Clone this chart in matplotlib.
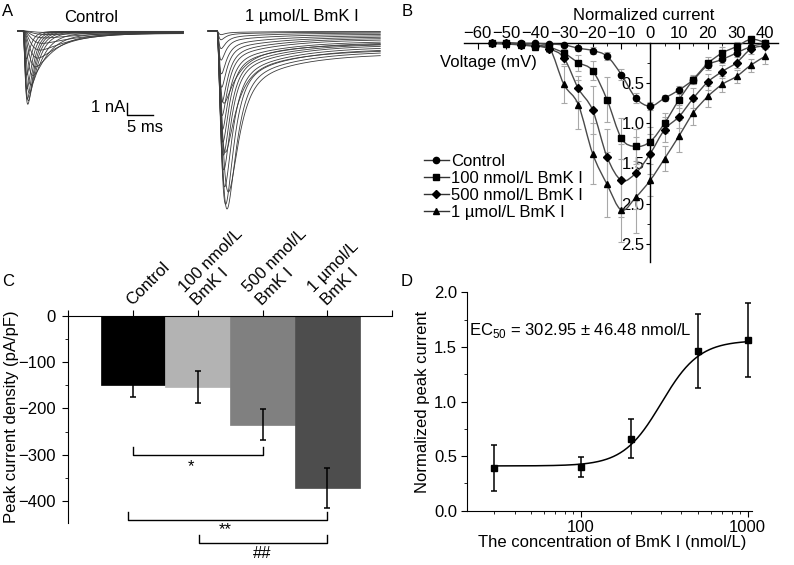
import numpy as np
import matplotlib
matplotlib.use("Agg")
import matplotlib.pyplot as plt
from matplotlib.path import Path
from matplotlib.patches import PathPatch
from matplotlib.lines import Line2D
from matplotlib.ticker import MultipleLocator, FixedLocator, LogLocator, NullFormatter, FormatStrFormatter

plt.rcParams["font.family"] = ["Liberation Sans", "DejaVu Sans"]
plt.rcParams["font.size"] = 12
plt.rcParams["mathtext.fontset"] = "custom"
plt.rcParams["mathtext.rm"] = "Liberation Sans"

# ---------------- data ----------------
# A: current traces (per-trace kinetic parameters, nA / ms)
ctrl_peak = [0.1, 0.25, 0.5, 0.9, 1.4, 2.0, 2.7, 3.4, 4.2, 4.9, 5.5, 5.8, 5.4, 4.6, 3.5, 2.2]
ctrl_tau_m = [1.5, 1.4, 1.3, 1.2, 1.1, 1.0, 0.9, 0.75, 0.6, 0.5, 0.42, 0.38, 0.35, 0.32, 0.3, 0.28]
ctrl_tau_h = [14, 12, 10, 8, 6.5, 5.0, 4.0, 3.0, 2.3, 1.8, 1.5, 1.3, 1.2, 1.1, 1.0, 0.9]
ctrl_late = [0.02, 0.04, 0.06, 0.1, 0.15, 0.2, 0.2, 0.2, 0.15, 0.1, 0.1, 0.08, 0.06, 0.05, 0.04, 0.03]

bmk_peak = [0.2, 0.5, 1.0, 1.7, 2.5, 3.3, 4.2, 5.0, 5.8, 6.6, 7.4, 8.4, 9.6, 11.0, 11.4, 9.8, 6.5, 3.5]
bmk_tau_m = [0.3, 0.3, 0.3, 0.3, 0.32, 0.34, 0.36, 0.38, 0.4, 0.45, 0.5, 0.55, 0.65, 0.8, 1.0, 1.1, 0.6, 0.4]
bmk_tau_h = [0.9, 0.9, 1.0, 1.0, 1.1, 1.1, 1.2, 1.2, 1.3, 1.3, 1.4, 1.4, 1.5, 1.5, 1.6, 1.8, 2.0, 2.5]
bmk_slow = [0.1, 0.2, 0.4, 0.6, 0.9, 1.2, 1.5, 1.8, 2.1, 2.4, 2.7, 3.0, 3.3, 3.6, 3.8, 4.0, 3.0, 1.8]
bmk_late = [0.03, 0.08, 0.15, 0.25, 0.35, 0.45, 0.55, 0.65, 0.8, 0.9, 1.0, 1.1, 1.25, 1.4, 1.6, 1.8, 1.5, 1.0]

# B: I-V relation (normalized current, positive downward)
voltage = [-55, -50, -45, -40, -35, -30, -25, -20, -15, -10, -5, 0, 5, 10, 15, 20, 25, 30, 35, 40]
iv_control = [0.0, 0.0, 0.01, 0.01, 0.02, 0.03, 0.07, 0.10, 0.17, 0.40, 0.69, 0.79, 0.69, 0.59, 0.46, 0.28, 0.21, 0.13, 0.05, 0.01]
iv_100 = [0.01, 0.01, 0.02, 0.04, 0.06, 0.13, 0.25, 0.35, 0.71, 1.19, 1.29, 1.23, 1.00, 0.71, 0.46, 0.26, 0.13, 0.05, -0.04, 0.0]
iv_500 = [0.01, 0.01, 0.03, 0.04, 0.08, 0.19, 0.57, 0.84, 1.42, 1.71, 1.62, 1.38, 1.08, 0.92, 0.69, 0.49, 0.36, 0.25, 0.08, 0.04]
iv_1000 = [0.01, 0.02, 0.03, 0.05, 0.07, 0.52, 0.77, 1.38, 1.76, 2.08, 1.92, 1.71, 1.44, 1.16, 0.87, 0.67, 0.52, 0.42, 0.28, 0.17]
iv_control_err = [0.01, 0.01, 0.01, 0.01, 0.01, 0.02, 0.03, 0.04, 0.05, 0.07, 0.06, 0.05, 0.04, 0.05, 0.05, 0.04, 0.04, 0.03, 0.02, 0.01]
iv_100_err = [0.01, 0.01, 0.01, 0.02, 0.03, 0.05, 0.10, 0.12, 0.28, 0.25, 0.22, 0.18, 0.12, 0.10, 0.06, 0.08, 0.08, 0.06, 0.04, 0.02]
iv_500_err = [0.01, 0.01, 0.02, 0.02, 0.04, 0.08, 0.15, 0.30, 0.35, 0.45, 0.45, 0.25, 0.15, 0.14, 0.12, 0.10, 0.08, 0.07, 0.06, 0.04]
iv_1000_err = [0.01, 0.01, 0.02, 0.03, 0.05, 0.23, 0.30, 0.38, 0.40, 0.40, 0.45, 0.20, 0.15, 0.20, 0.15, 0.13, 0.10, 0.08, 0.08, 0.10]
iv_labels = ["Control", "100 nmol/L BmK I", "500 nmol/L BmK I", "1 µmol/L BmK I"]
iv_markers = ["o", "s", "D", "^"]

# C: peak current density
c_labels = ["Control", "100 nmol/L\nBmK I", "500 nmol/L\nBmK I", "1 µmol/L\nBmK I"]
c_values = [-150, -154, -235, -372]
c_errors = [26, 35, 34, 43]
c_colors = ["#000000", "#b3b3b3", "#808080", "#4d4d4d"]
# brackets: (x_left, x_right, y, label, label_x, label_y)
c_brackets = [(0.0, 2.0, -300, "*", 0.9, -326), (-0.08, 3.0, -441, "**", 1.42, -462),
              (1.02, 3.0, -491, "##", 2.0, -514)]

# D: dose-response
d_conc = [30, 100, 200, 500, 1000]
d_resp = [0.39, 0.40, 0.66, 1.46, 1.56]
d_err = [0.21, 0.09, 0.18, 0.34, 0.34]
fit_bottom, fit_top, fit_ec50, fit_hill = 0.41, 1.56, 302.95, 3.8

# ---------------- figure ----------------
W, H = 794, 565
fig = plt.figure(figsize=(W / 100, H / 100), dpi=100)


def add_ax(x0, y0, x1, y1):
    return fig.add_axes([x0 / W, 1 - y1 / H, (x1 - x0) / W, (y1 - y0) / H])


def ftext(x, y, s, **kw):
    return fig.text(x / W, 1 - y / H, s, **kw)


def na_trace(t, peak, tau_m, tau_h, slow, late, tau_s=10.0):
    tt = np.clip(t, 0, None)
    act = (1 - np.exp(-tt / tau_m)) ** 3
    fast = act * np.exp(-tt / tau_h)
    fast = fast / fast.max() * peak
    return -(fast + act * (slow * np.exp(-tt / tau_s) + late))


def smooth_path(x, y):
    pts = np.column_stack([x, y]).astype(float)
    verts = [pts[0]]
    codes = [Path.MOVETO]
    n = len(pts)
    for i in range(n - 1):
        p0 = pts[max(i - 1, 0)]
        p1 = pts[i]
        p2 = pts[i + 1]
        p3 = pts[min(i + 2, n - 1)]
        verts += [p1 + (p2 - p0) / 6, p2 - (p3 - p1) / 6, p2]
        codes += [Path.CURVE4] * 3
    return Path(verts, codes)


# ---- A ----
px_ms, px_na = 5.2, 12.5
axA = add_ax(0, 20, 400, 230)
axA.set_xlim(-23 / px_ms, (400 - 23) / px_ms)
axA.set_ylim(-(230 - 31) / px_na, (31 - 20) / px_na)
axA.axis("off")

t_ctrl = np.linspace(-1.0, 30.8, 900)
for k in range(len(ctrl_peak)):
    axA.plot(t_ctrl, na_trace(t_ctrl, ctrl_peak[k], ctrl_tau_m[k], ctrl_tau_h[k], 0.0, ctrl_late[k]),
             color="#3c3c3c", lw=0.6)
bmk_onset = (217 - 23) / px_ms
t_bmk = np.linspace(-1.7, 31.4, 900)
for k in range(len(bmk_peak)):
    axA.plot(t_bmk + bmk_onset, na_trace(t_bmk, bmk_peak[k], bmk_tau_m[k], bmk_tau_h[k], bmk_slow[k], bmk_late[k]),
             color="#3c3c3c", lw=0.6)

axA.plot([20, 20, 25], [-5.72, -6.72, -6.72], color="k", lw=1)
axA.text(19.6, -6.1, "1 nA", ha="right", va="center")
axA.text(23.5, -7.75, "5 ms", ha="center", va="center")
ftext(91, 17, "Control", ha="center", va="center")
ftext(302, 17, "1 µmol/L BmK I", ha="center", va="center")

# ---- B ----
axB = add_ax(464, 42.5, 778.3, 261.7)
axB.set_xlim(-64.7, 44.5)
axB.set_ylim(2.72, 0)
axB.spines["bottom"].set_visible(False)
axB.spines["right"].set_visible(False)
axB.spines["left"].set_position(("data", 0))
axB.xaxis.tick_top()
axB.xaxis.set_major_locator(FixedLocator(range(-60, 41, 10)))
axB.xaxis.set_minor_locator(FixedLocator(range(-65, 45, 5)))
axB.tick_params(axis="x", which="major", direction="in", length=4, pad=1, labelsize=12)
axB.tick_params(axis="x", which="minor", direction="in", length=2)
axB.yaxis.set_major_locator(FixedLocator([0.5, 1.0, 1.5, 2.0, 2.5]))
axB.yaxis.set_minor_locator(FixedLocator([0.25, 0.75, 1.25, 1.75, 2.25]))
axB.yaxis.set_major_formatter(FormatStrFormatter("%.1f"))
axB.tick_params(axis="y", which="major", direction="out", length=3, pad=1, labelsize=12)
axB.tick_params(axis="y", which="minor", direction="out", length=2)
for sp in axB.spines.values():
    sp.set_linewidth(1)

iv_series = [iv_control, iv_100, iv_500, iv_1000]
iv_errs = [iv_control_err, iv_100_err, iv_500_err, iv_1000_err]
handles = []
for vals, errs, mk, lab in zip(iv_series, iv_errs, iv_markers, iv_labels):
    axB.errorbar(voltage, vals, yerr=errs, fmt="none", ecolor="#a8a8a8", elinewidth=0.8,
                 capsize=2, capthick=0.8, clip_on=False, zorder=2)
    axB.add_patch(PathPatch(smooth_path(voltage, vals), fill=False, edgecolor="#4a4a4a", lw=1,
                            clip_on=False, zorder=3))
    ms = 4.5 if mk != "D" else 4
    axB.plot(voltage, vals, ls="none", marker=mk, ms=ms, color="k", clip_on=False, zorder=4)
    handles.append(Line2D([], [], color="#333333", lw=1, marker=mk, ms=ms, markerfacecolor="k",
                          markeredgecolor="k"))

fig.legend(handles, iv_labels, loc="upper left", bbox_to_anchor=(424 / W, 1 - 154 / H), frameon=False,
           handlelength=1.5, handletextpad=0.15, labelspacing=0.12, borderpad=0, borderaxespad=0,
           fontsize=12)
ftext(644, 15, "Normalized current", ha="center", va="center")
ftext(488, 63, "Voltage (mV)", ha="center", va="center")

# ---- C ----
axC = add_ax(68.3, 316, 392, 523)
axC.set_xlim(-1, 4)
axC.set_ylim(-448, 0)
axC.spines["bottom"].set_visible(False)
axC.spines["right"].set_visible(False)
axC.bar(range(4), c_values, width=1.0, color=c_colors, edgecolor=c_colors, lw=0.5, zorder=2)
axC.errorbar(range(4), c_values, yerr=c_errors, fmt="none", ecolor="k", elinewidth=1.1,
             capsize=2.2, capthick=1.1, zorder=3)
axC.xaxis.tick_top()
axC.set_xticks([-1, 0, 1, 2, 3, 4])
axC.set_xticklabels([])
axC.tick_params(axis="x", direction="out", length=4)
axC.yaxis.set_major_locator(MultipleLocator(100))
axC.yaxis.set_minor_locator(MultipleLocator(50))
axC.tick_params(axis="y", which="major", direction="out", length=4, pad=5, labelsize=12)
axC.tick_params(axis="y", which="minor", direction="out", length=2.5)
for i, lab in enumerate(c_labels):
    axC.annotate(lab, xy=(i, 0), xytext=(1, 6), textcoords="offset points", rotation=45,
                 rotation_mode="anchor", ha="left", va="bottom", multialignment="left",
                 annotation_clip=False)
for x0, x1, yb, lab, lx, ly in c_brackets:
    axC.plot([x0, x0, x1, x1], [yb + 17, yb, yb, yb + 17], color="k", lw=1, clip_on=False)
    axC.text(lx, ly, lab, ha="center", va="center", fontsize=12, clip_on=False)
ftext(12, 417, "Peak current density (pA/pF)", rotation=90, ha="center", va="center")

# ---- D ----
axD = add_ax(466.7, 292.3, 751.7, 510.7)
axD.set_xscale("log")
axD.set_xlim(20.6, 1057)
axD.set_ylim(0, 2.0)
axD.spines["top"].set_visible(False)
axD.spines["right"].set_visible(False)
axD.xaxis.set_major_locator(FixedLocator([100, 1000]))
axD.xaxis.set_minor_locator(LogLocator(base=10, subs=np.arange(2, 10)))
axD.xaxis.set_minor_formatter(NullFormatter())
axD.set_xticklabels(["100", "1000"])
axD.yaxis.set_major_locator(MultipleLocator(0.5))
axD.yaxis.set_minor_locator(MultipleLocator(0.25))
axD.yaxis.set_major_formatter(FormatStrFormatter("%.1f"))
axD.tick_params(which="major", direction="out", length=4, pad=3, labelsize=12)
axD.tick_params(which="minor", direction="out", length=2.5)
x_fit = np.logspace(np.log10(d_conc[0]), np.log10(d_conc[-1]), 300)
y_fit = fit_bottom + (fit_top - fit_bottom) / (1 + (fit_ec50 / x_fit) ** fit_hill)
axD.plot(x_fit, y_fit, color="k", lw=1.1)
axD.errorbar(d_conc, d_resp, yerr=d_err, fmt="s", color="k", ms=4.5, elinewidth=1.1,
             capsize=2.2, capthick=1.1, clip_on=False, zorder=3)
ftext(469, 330, r"EC$_{\mathrm{50}}$ = 302.95 ± 46.48 nmol/L", ha="left", va="center")
ftext(423, 402, "Normalized peak current", rotation=90, ha="center", va="center")
ftext(612, 543, "The concentration of BmK I (nmol/L)", ha="center", va="center")

# panel letters
ftext(8, 12, "A", ha="center", va="center")
ftext(407, 12, "B", ha="center", va="center")
ftext(8, 282, "C", ha="center", va="center")
ftext(407, 281, "D", ha="center", va="center")

fig.savefig("out.png", dpi=100)
